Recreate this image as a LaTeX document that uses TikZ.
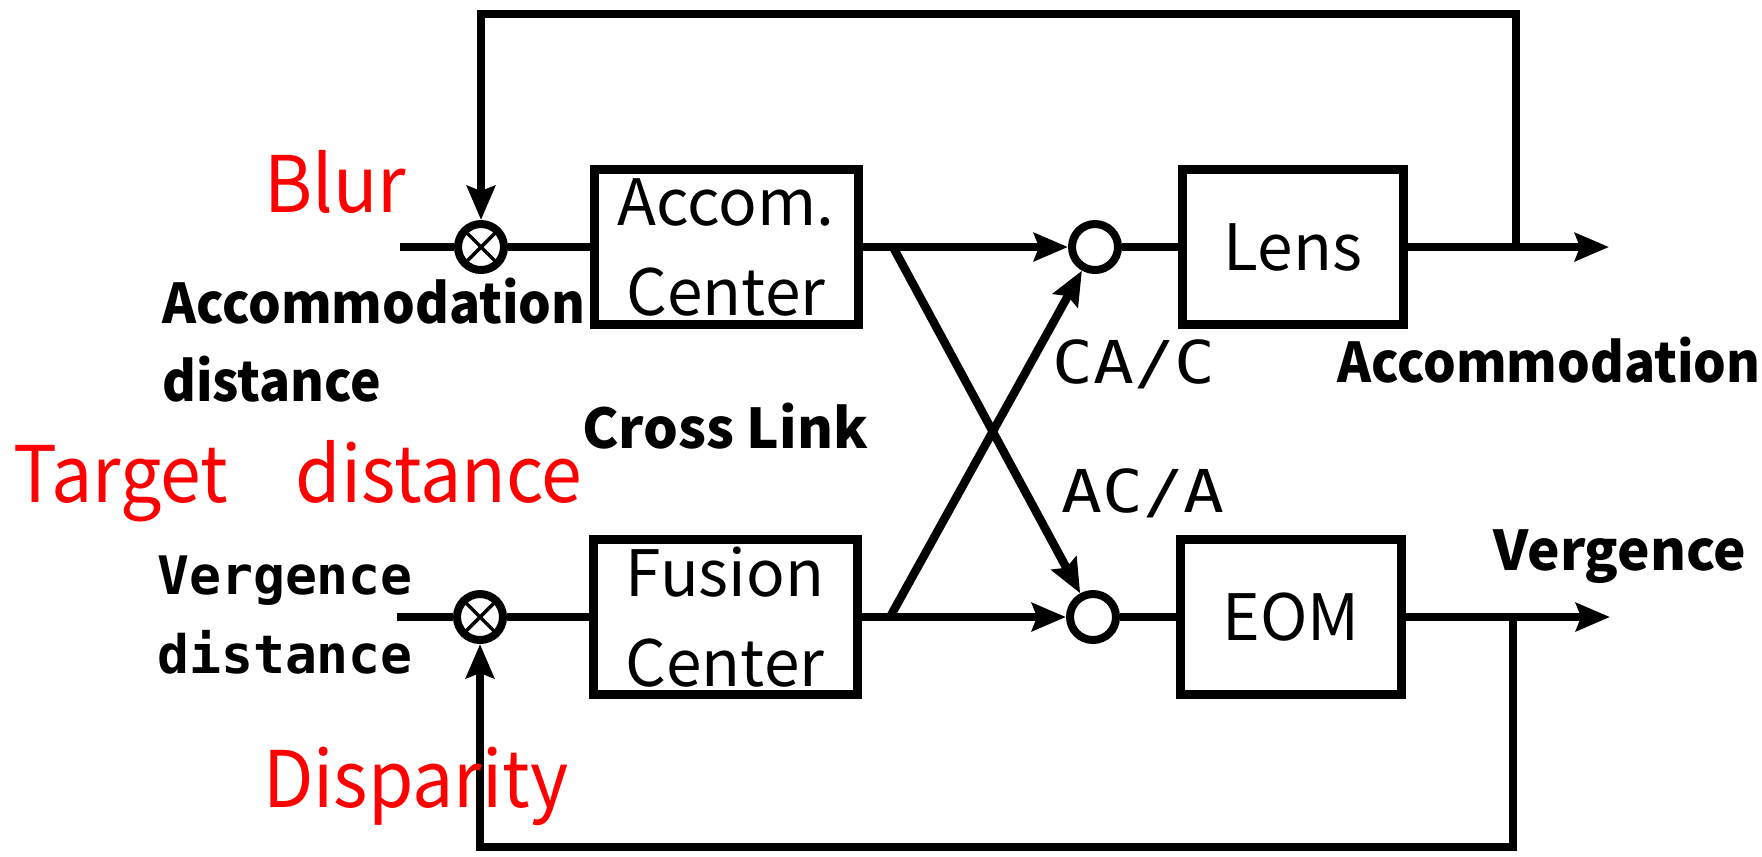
\documentclass[tikz,border=0pt]{standalone}
\usepackage{fontspec}
\usepackage{tikz}
\usetikzlibrary{positioning,arrows.meta}
\newfontfamily\gothic{Noto Sans CJK JP}
\newfontfamily\gothicnarrow[FakeStretch=0.94]{Noto Sans CJK JP}
\newfontfamily\gothicmono{DejaVu Sans Mono}
\newfontfamily\gainfont[FakeStretch=1.15]{DejaVu Sans Mono}

\begin{document}
\begin{tikzpicture}[>={Stealth[length=3.4mm,width=2.8mm,inset=0.5mm]},line width=0.85mm,
  block/.style={draw,line width=0.9mm,minimum height=1.55cm,inner sep=0pt,align=center,font=\gothic\fontsize{18.2}{25.6}\selectfont},
  mixer/.style={draw,circle,line width=0.8mm,minimum size=0.46cm,inner sep=0pt},
  product/.style={mixer,path picture={\draw[line width=0.35mm]
      (path picture bounding box.north west) -- (path picture bounding box.south east)
      (path picture bounding box.north east) -- (path picture bounding box.south west);}},
  sig/.style={inner sep=0pt,font=\gothic\bfseries\fontsize{15.6}{22.2}\selectfont},
  narrowsig/.style={sig,font=\gothicnarrow\bfseries\fontsize{15.6}{22.2}\selectfont},
  spaced/.style={inner sep=0pt,font=\gothicmono\bfseries\fontsize{15.1}{22.2}\selectfont},
  gain/.style={inner sep=0pt,font=\gainfont\fontsize{16.8}{19}\selectfont},
  redlabel/.style={inner sep=0pt,text=red,font=\gothicnarrow\fontsize{22.2}{26}\selectfont}]
\useasboundingbox (0,0) rectangle (17.62,-8.56);

% blocks and junctions
\node[product] (blurx) at (4.81,-2.47) {};
\node[product] (dispx) at (4.80,-6.17) {};
\node[block,minimum width=2.64cm] (accom) at (7.26,-2.47) {Accom.\\Center};
\node[block,minimum width=2.64cm] (fusion) at (7.25,-6.17) {Fusion\\Center};
\node[mixer] (sum1) at (10.95,-2.47) {};
\node[mixer] (sum2) at (10.93,-6.17) {};
\node[block,minimum width=2.21cm] (lens) at (12.93,-2.47) {Lens};
\node[block,minimum width=2.21cm] (eom) at (12.91,-6.17) {EOM};

\coordinate (in1) at (4.00,-2.47);
\coordinate (in2) at (3.97,-6.17);
\coordinate (out1) at (16.09,-2.47);
\coordinate (out2) at (16.10,-6.17);
\coordinate (tap1) at (15.16,-2.47);
\coordinate (tap2) at (15.13,-6.17);
\coordinate (xa) at (8.93,-2.47);
\coordinate (xb) at (8.90,-6.17);
\coordinate (topline) at (0,-0.14);
\coordinate (botline) at (0,-8.47);

% forward paths
\draw (in1) -- (blurx) -- (accom);
\draw[->] (accom) -- (sum1);
\draw (sum1) -- (lens);
\draw[->] (lens) -- (out1);
\draw (in2) -- (dispx) -- (fusion);
\draw[->] (fusion) -- (sum2);
\draw (sum2) -- (eom);
\draw[->] (eom) -- (out2);

% feedback loops
\draw[->] (tap1) -- (tap1 |- topline) -| (blurx);
\draw[->] (tap2) -- (tap2 |- botline) -| (dispx);

% cross link
\draw[->] (xa) -- (sum2);
\draw[->] (xb) -- (sum1);

% labels
\node[redlabel,anchor=base west] (blur) at (2.60,-2.12) {Blur};
\node[narrowsig,anchor=west,align=left] (accdist) at (1.58,-3.40) {Accommodation\\distance};
\node[sig,anchor=base west] (xlink) at (5.78,-4.48) {Cross Link};
\node[redlabel,anchor=base west] (target) at (0.09,-5.02) {Target\hspace{0.87em}distance};
\node[spaced,anchor=west,align=left] (vergdist) at (1.53,-6.15) {Vergence\\distance};
\node[redlabel,anchor=base west] (disp) at (2.59,-8.07) {Disparity};
\node[gain,anchor=base west] (cac) at (10.48,-3.83) {CA/C};
\node[gain,anchor=base west] (aca) at (10.57,-5.12) {AC/A};
\node[narrowsig,anchor=base west] (accout) at (13.33,-3.82) {Accommodation};
\node[sig,anchor=base west] (vergout) at (14.89,-5.70) {Vergence};
\end{tikzpicture}
\end{document}
